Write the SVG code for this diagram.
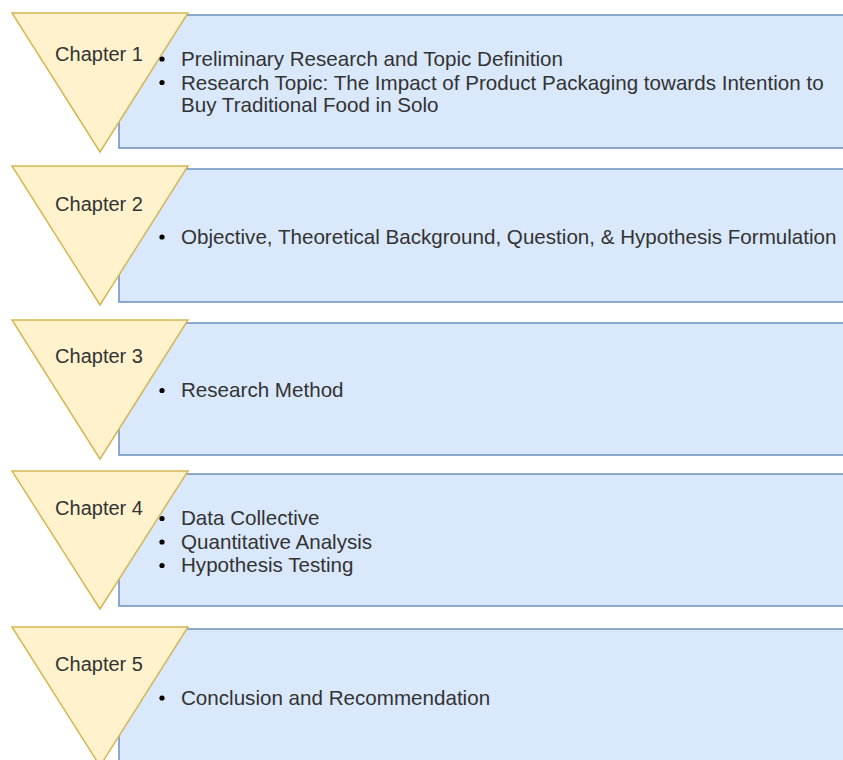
<svg xmlns="http://www.w3.org/2000/svg" width="843" height="760" viewBox="0 0 843 760">
  <style>
    .box { fill: #dae8fc; stroke: #6c8ebf; stroke-width: 1.5; }
    .tri { fill: #fff2cc; stroke: #d6b656; stroke-width: 1.5; stroke-linejoin: miter; }
    .lbl { font-family: "Liberation Sans", Arial, sans-serif; font-size: 20px; fill: #333333; text-anchor: middle; }
    .item { font-family: "Liberation Sans", Arial, sans-serif; font-size: 20.6px; fill: #333333; }
    .dot { fill: #000000; }
  </style>
  <rect width="843" height="760" fill="#ffffff"/>

  <!-- Chapter 1 -->
  <g id="chapter1">
    <rect class="box" x="119" y="15" width="740" height="133"/>
    <polygon class="tri" points="12,13 188,13 100,152"/>
    <text class="lbl" x="99" y="61">Chapter 1</text>
    <circle class="dot" cx="162" cy="59" r="2.6"/>
    <circle class="dot" cx="162" cy="82.5" r="2.6"/>
    <text class="item" x="181" y="66">Preliminary Research and Topic Definition</text>
    <text class="item" x="181" y="89.5">Research Topic: The Impact of Product Packaging towards Intention to</text>
    <text class="item" x="181" y="112">Buy Traditional Food in Solo</text>
  </g>

  <!-- Chapter 2 -->
  <g id="chapter2">
    <rect class="box" x="119" y="169" width="740" height="133"/>
    <polygon class="tri" points="12,166 188,166 100,305"/>
    <text class="lbl" x="99" y="211">Chapter 2</text>
    <circle class="dot" cx="162" cy="237" r="2.6"/>
    <text class="item" x="181" y="243.5">Objective, Theoretical Background, Question, &amp; Hypothesis Formulation</text>
  </g>

  <!-- Chapter 3 -->
  <g id="chapter3">
    <rect class="box" x="119" y="323" width="740" height="132"/>
    <polygon class="tri" points="12,320 188,320 100,459"/>
    <text class="lbl" x="99" y="363">Chapter 3</text>
    <circle class="dot" cx="162" cy="390.5" r="2.6"/>
    <text class="item" x="181" y="397">Research Method</text>
  </g>

  <!-- Chapter 4 -->
  <g id="chapter4">
    <rect class="box" x="119" y="474" width="740" height="132"/>
    <polygon class="tri" points="12,471 188,471 100,609"/>
    <text class="lbl" x="99" y="515">Chapter 4</text>
    <circle class="dot" cx="162" cy="518.5" r="2.6"/>
    <circle class="dot" cx="162" cy="542" r="2.6"/>
    <circle class="dot" cx="162" cy="565.5" r="2.6"/>
    <text class="item" x="181" y="525">Data Collective</text>
    <text class="item" x="181" y="548.5">Quantitative Analysis</text>
    <text class="item" x="181" y="572">Hypothesis Testing</text>
  </g>

  <!-- Chapter 5 -->
  <g id="chapter5">
    <rect class="box" x="119" y="629" width="740" height="160"/>
    <polygon class="tri" points="12,627 188,627 100,766"/>
    <text class="lbl" x="99" y="671">Chapter 5</text>
    <circle class="dot" cx="162" cy="698" r="2.6"/>
    <text class="item" x="181" y="704.5">Conclusion and Recommendation</text>
  </g>

  <!-- no connectors in this diagram -->
  <g id="connectors"/>
</svg>
